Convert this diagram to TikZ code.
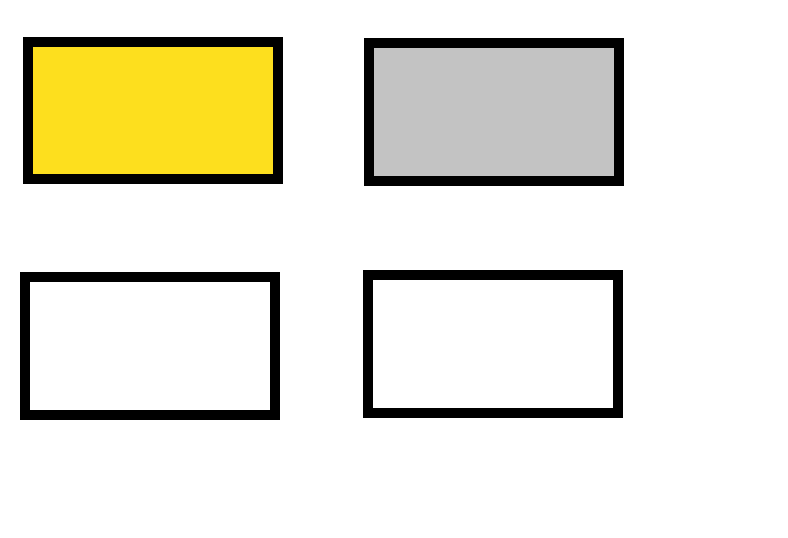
\documentclass[tikz,border=0pt]{standalone}
\usepackage{tikz}
\usetikzlibrary{positioning}
\usepackage{xcolor}
\definecolor{boxyellow}{RGB}{253,223,30}
\definecolor{boxgray}{RGB}{195,195,195}

\begin{document}
\begin{tikzpicture}[x=0.75pt, y=-0.75pt,
        panel/.style={draw=black, line width=7.5pt, rectangle, inner sep=0pt,
            minimum width=187.5pt, minimum height=103.5pt}]
    \useasboundingbox (0, 0) rectangle (788, 538);
    \node[panel, fill=boxyellow, minimum height=102.5pt] (topleft) at (153, 110.3) {};
    \node[panel, fill=boxgray, minimum width=188pt, minimum height=104.2pt] (topright) at (494, 112) {};
    \node[panel, fill=white] (bottomleft) at (150, 346) {};
    \node[panel, fill=white] (bottomright) at (493, 344) {};
\end{tikzpicture}
\end{document}
